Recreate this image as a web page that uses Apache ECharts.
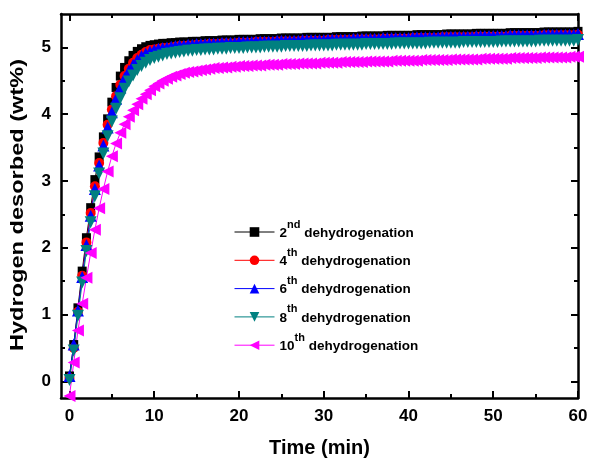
<!DOCTYPE html>
<html>
<head>
<meta charset="utf-8">
<script src="https://cdn.jsdelivr.net/npm/echarts@6/dist/echarts.min.js"></script>
<style>
  html, body { margin: 0; padding: 0; background: #ffffff; }
  #chart { width: 590px; height: 461px; }
</style>
</head>
<body>
<div id="chart"></div>
<script>
// Sampling times (min)
const times = [
  0,0.5,1,1.5,2,2.5,3,3.5,4,4.5,
  5,5.5,6,6.5,7,7.5,8,8.5,9,9.5,
  10,10.5,11,11.5,12,12.5,13,13.5,14,14.5,
  15,15.5,16,16.5,17,17.5,18,18.5,19,19.5,
  20,20.5,21,21.5,22,22.5,23,23.5,24,24.5,
  25,25.5,26,26.5,27,27.5,28,28.5,29,29.5,
  30,30.5,31,31.5,32,32.5,33,33.5,34,34.5,
  35,35.5,36,36.5,37,37.5,38,38.5,39,39.5,
  40,40.5,41,41.5,42,42.5,43,43.5,44,44.5,
  45,45.5,46,46.5,47,47.5,48,48.5,49,49.5,
  50,50.5,51,51.5,52,52.5,53,53.5,54,54.5,
  55,55.5,56,56.5,57,57.5,58,58.5,59,59.5,
  60
];

// Hydrogen desorbed (wt%) per dehydrogenation cycle
const cycle2 = [
  0.08,0.55,1.10,1.65,2.15,2.60,3.02,3.36,3.66,3.93,
  4.18,4.40,4.57,4.70,4.80,4.88,4.94,4.98,5.01,5.03,
  5.04,5.05,5.06,5.06,5.07,5.07,5.08,5.08,5.08,5.09,
  5.09,5.09,5.10,5.10,5.10,5.10,5.11,5.11,5.11,5.11,
  5.12,5.12,5.12,5.12,5.12,5.13,5.13,5.13,5.13,5.13,
  5.14,5.14,5.14,5.14,5.14,5.14,5.15,5.15,5.15,5.15,
  5.15,5.15,5.15,5.16,5.16,5.16,5.16,5.16,5.16,5.17,
  5.17,5.17,5.17,5.17,5.17,5.18,5.18,5.18,5.18,5.18,
  5.18,5.18,5.19,5.19,5.19,5.19,5.19,5.19,5.19,5.20,
  5.20,5.20,5.20,5.20,5.20,5.20,5.21,5.21,5.21,5.21,
  5.21,5.21,5.21,5.21,5.22,5.22,5.22,5.22,5.22,5.22,
  5.22,5.22,5.23,5.23,5.23,5.23,5.23,5.23,5.23,5.23,
  5.24
];
const cycle4 = [
  0.05,0.50,1.04,1.58,2.08,2.52,2.92,3.27,3.57,3.84,
  4.07,4.27,4.44,4.57,4.68,4.77,4.84,4.89,4.93,4.96,
  4.97,4.98,4.99,4.99,5.00,5.01,5.02,5.02,5.03,5.03,
  5.04,5.04,5.04,5.05,5.05,5.05,5.06,5.06,5.06,5.06,
  5.07,5.07,5.07,5.07,5.08,5.08,5.08,5.08,5.08,5.09,
  5.09,5.09,5.09,5.09,5.09,5.10,5.10,5.10,5.10,5.10,
  5.10,5.11,5.11,5.11,5.11,5.11,5.11,5.12,5.12,5.12,
  5.12,5.12,5.12,5.12,5.13,5.13,5.13,5.13,5.13,5.13,
  5.13,5.14,5.14,5.14,5.14,5.14,5.14,5.14,5.15,5.15,
  5.15,5.15,5.15,5.15,5.15,5.15,5.16,5.16,5.16,5.16,
  5.16,5.16,5.16,5.16,5.17,5.17,5.17,5.17,5.17,5.17,
  5.17,5.17,5.18,5.18,5.18,5.18,5.18,5.18,5.18,5.18,
  5.19
];
const cycle6 = [
  0.08,0.55,1.06,1.56,2.04,2.48,2.88,3.23,3.53,3.80,
  4.03,4.23,4.40,4.54,4.65,4.74,4.81,4.87,4.91,4.94,
  4.96,4.98,4.99,5.00,5.01,5.02,5.03,5.03,5.04,5.04,
  5.05,5.05,5.05,5.06,5.06,5.06,5.07,5.07,5.07,5.07,
  5.08,5.08,5.08,5.08,5.09,5.09,5.09,5.09,5.09,5.10,
  5.10,5.10,5.10,5.10,5.10,5.11,5.11,5.11,5.11,5.11,
  5.11,5.12,5.12,5.12,5.12,5.12,5.12,5.13,5.13,5.13,
  5.13,5.13,5.13,5.13,5.14,5.14,5.14,5.14,5.14,5.14,
  5.14,5.15,5.15,5.15,5.15,5.15,5.15,5.15,5.16,5.16,
  5.16,5.16,5.16,5.16,5.16,5.16,5.17,5.17,5.17,5.17,
  5.17,5.17,5.17,5.17,5.18,5.18,5.18,5.18,5.18,5.18,
  5.18,5.18,5.19,5.19,5.19,5.19,5.19,5.19,5.19,5.19,
  5.20
];
const cycle8 = [
  0.02,0.46,0.98,1.48,1.95,2.38,2.77,3.11,3.41,3.67,
  3.89,4.08,4.24,4.38,4.49,4.58,4.66,4.72,4.77,4.81,
  4.84,4.86,4.88,4.90,4.91,4.92,4.93,4.94,4.95,4.95,
  4.96,4.96,4.97,4.97,4.97,4.98,4.98,4.98,4.99,4.99,
  4.99,4.99,5.00,5.00,5.00,5.00,5.01,5.01,5.01,5.01,
  5.01,5.02,5.02,5.02,5.02,5.02,5.02,5.03,5.03,5.03,
  5.03,5.03,5.03,5.04,5.04,5.04,5.04,5.04,5.04,5.04,
  5.05,5.05,5.05,5.05,5.05,5.05,5.05,5.06,5.06,5.06,
  5.06,5.06,5.06,5.06,5.06,5.07,5.07,5.07,5.07,5.07,
  5.07,5.07,5.07,5.08,5.08,5.08,5.08,5.08,5.08,5.08,
  5.08,5.08,5.09,5.09,5.09,5.09,5.09,5.09,5.09,5.09,
  5.09,5.10,5.10,5.10,5.10,5.10,5.10,5.10,5.10,5.10,
  5.11
];
const cycle10 = [
  -0.22,0.28,0.76,1.16,1.55,1.92,2.27,2.59,2.88,3.14,
  3.37,3.56,3.72,3.85,3.96,4.06,4.15,4.23,4.30,4.36,
  4.42,4.46,4.50,4.53,4.56,4.58,4.60,4.62,4.63,4.64,
  4.65,4.66,4.67,4.68,4.69,4.69,4.70,4.70,4.71,4.71,
  4.72,4.72,4.72,4.73,4.73,4.73,4.74,4.74,4.74,4.74,
  4.75,4.75,4.75,4.75,4.76,4.76,4.76,4.76,4.76,4.77,
  4.77,4.77,4.77,4.77,4.78,4.78,4.78,4.78,4.78,4.78,
  4.79,4.79,4.79,4.79,4.79,4.79,4.80,4.80,4.80,4.80,
  4.80,4.80,4.80,4.81,4.81,4.81,4.81,4.81,4.81,4.81,
  4.82,4.82,4.82,4.82,4.82,4.82,4.82,4.83,4.83,4.83,
  4.83,4.83,4.83,4.83,4.84,4.84,4.84,4.84,4.84,4.84,
  4.84,4.85,4.85,4.85,4.85,4.85,4.85,4.85,4.86,4.86,
  4.86
];

// Legend text parts: cycle number + ordinal suffix
const cycleNums = ['2', '4', '6', '8', '10'];
const cycleSuffix = ['nd', 'th', 'th', 'th', 'th'];
const seriesValues = [cycle2, cycle4, cycle6, cycle8, cycle10];

// Axis tick positions
const xMajorTicks = [0, 10, 20, 30, 40, 50, 60];
const xMinorTicks = [5, 15, 25, 35, 45, 55];
const yMajorTicks = [0, 1, 2, 3, 4, 5];
const yMinorTicks = [0.5, 1.5, 2.5, 3.5, 4.5];

const xTitle = 'Time (min)';
const yTitle = 'Hydrogen desorbed (wt%)';

const colors = ['#000000', '#ff0000', '#0000ff', '#008080', '#ff00ff'];
const symbols = ['rect', 'circle', 'triangle', 'triangle', 'triangle'];
const symbolSizes = [9, 10, 12, 12, 12];
const rotations = [0, 0, 0, 180, 90];

const FONT = 'Liberation Sans, Arial, sans-serif';
const X_MIN = -1, X_MAX = 60, Y_MIN = -0.25, Y_MAX = 5.5;

function axisX(pos, ticks, len, showLine, showLabel) {
  return {
    type: 'value', position: pos, min: X_MIN, max: X_MAX,
    splitLine: { show: false },
    axisLine: { show: showLine, onZero: false, lineStyle: { color: '#000', width: 2.5 } },
    axisTick: { show: true, inside: true, length: len, customValues: ticks,
                lineStyle: { color: '#000', width: 2 } },
    axisLabel: { show: showLabel, customValues: ticks, margin: 10,
                 color: '#000', fontFamily: FONT, fontWeight: 'bold', fontSize: 17 }
  };
}
function axisY(pos, ticks, len, showLine, showLabel) {
  return {
    type: 'value', position: pos, min: Y_MIN, max: Y_MAX,
    splitLine: { show: false },
    axisLine: { show: showLine, onZero: false, lineStyle: { color: '#000', width: 2.5 } },
    axisTick: { show: true, inside: true, length: len, customValues: ticks,
                lineStyle: { color: '#000', width: 2 } },
    axisLabel: { show: showLabel, customValues: ticks, margin: 10,
                 color: '#000', fontFamily: FONT, fontWeight: 'bold', fontSize: 17 }
  };
}

const xAxes = [
  Object.assign(axisX('bottom', xMajorTicks, 7, true, true), {
    name: xTitle, nameLocation: 'middle', nameGap: 40,
    nameTextStyle: { color: '#000', fontFamily: FONT, fontWeight: 'bold', fontSize: 20 }
  }),
  axisX('bottom', xMinorTicks, 4, false, false),
  axisX('top', xMajorTicks, 7, true, false),
  axisX('top', xMinorTicks, 4, false, false)
];
const yAxes = [
  axisY('left', yMajorTicks, 7, true, true),
  axisY('left', yMinorTicks, 4, false, false),
  axisY('right', yMajorTicks, 7, true, false),
  axisY('right', yMinorTicks, 4, false, false)
];

const series = seriesValues.map(function (vals, i) {
  return {
    name: cycleNums[i] + cycleSuffix[i] + ' dehydrogenation',
    type: 'line',
    xAxisIndex: 0, yAxisIndex: 0,
    data: times.map(function (t, k) { return [t, vals[k]]; }),
    symbol: symbols[i],
    symbolRotate: rotations[i],
    symbolSize: symbolSizes[i],
    showAllSymbol: true,
    clip: true,
    itemStyle: { color: colors[i] },
    lineStyle: { color: colors[i], width: 1 },
    animation: false
  };
});

const chart = echarts.init(document.getElementById('chart'), null, { renderer: 'canvas' });
chart.setOption({
  backgroundColor: '#ffffff',
  animation: false,
  grid: { left: 61, right: 12, top: 14, bottom: 63, containLabel: false, outerBoundsMode: 'none' },
  xAxis: xAxes,
  yAxis: yAxes,
  // Vertical y-axis title, stretched along its reading direction
  graphic: [{
    type: 'text',
    x: 18, y: 205,
    rotation: Math.PI / 2,
    scaleX: 1.31,
    style: {
      text: yTitle,
      font: 'bold 18px ' + FONT,
      fill: '#000',
      align: 'center',
      verticalAlign: 'middle'
    }
  }],
  legend: {
    orient: 'vertical', left: 229, top: 214,
    itemWidth: 40, itemHeight: 12, itemGap: 7.3,
    lineStyle: { width: 1 },
    data: series.map(function (s) { return s.name; }),
    formatter: function (name) {
      const m = name.match(/^(\d+)([a-z]+) (.*)$/);
      return '{n|' + m[1] + '}{s|' + m[2] + '}{n| ' + m[3] + '}';
    },
    textStyle: {
      color: '#000', fontFamily: FONT,
      rich: {
        n: { fontSize: 13.5, fontWeight: 'bold', fontFamily: FONT, color: '#000', lineHeight: 16, verticalAlign: 'bottom' },
        s: { fontSize: 11, fontWeight: 'bold', fontFamily: FONT, color: '#000', lineHeight: 12,
             padding: [0, 0, 10, 0], verticalAlign: 'bottom' }
      }
    }
  },
  series: series
});
</script>
</body>
</html>
